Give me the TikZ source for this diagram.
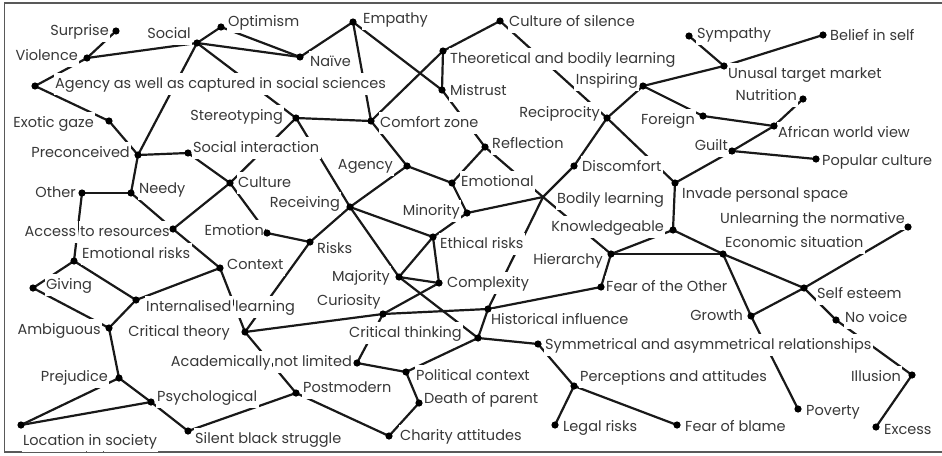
\documentclass[tikz,border=0pt]{standalone}
\usepackage{fontspec}
\setmainfont{Poppins}
\begin{document}
% each word of a label sits on its own white patch, so connectors show between words
\newsavebox\wbx
\newcommand\wword[1]{\sbox\wbx{#1}\rlap{\kern-1.5pt\textcolor{white}{\rule[-0.42em]{\dimexpr\wd\wbx+3pt\relax}{1.45em}}}\usebox\wbx}
\def\wsplit#1 #2\wend{\wword{#1}\ifx\relax#2\relax\else\ \wsplit#2\wend\fi}
\newcommand\lbl[1]{\wsplit#1 \wend}
\tikzset{
  edge/.style={line width=2.2pt, black!90},
  lab/.style={inner sep=0pt, text=black!78, font=\fontsize{14.5}{16}\selectfont},
  frameline/.style={line width=1.3pt, black!65}
}
\begin{tikzpicture}[x=1pt,y=-1pt]
\useasboundingbox (0,0) rectangle (942,455);
\fill[white] (0,0) rectangle (942,455);
\draw[frameline] (942,3) -- (4.5,3) -- (4.5,452) -- (942,452);

% concept points
\coordinate (surprise) at (116,31);
\coordinate (violence) at (87,58);
\coordinate (agencysoc) at (35,86);
\coordinate (social) at (197,43);
\coordinate (optimism) at (221,27);
\coordinate (naive) at (300,57);
\coordinate (empathy) at (353,22);
\coordinate (silence) at (500,21);
\coordinate (theoretical) at (443,51);
\coordinate (mistrust) at (442,90);
\coordinate (comfort) at (371,121);
\coordinate (reflection) at (485,147);
\coordinate (agency) at (407,166);
\coordinate (emotional) at (452,183);
\coordinate (stereo) at (296,118);
\coordinate (exotic) at (109,121);
\coordinate (precon) at (138,155);
\coordinate (socint) at (188,153);
\coordinate (needy) at (131,193);
\coordinate (other) at (82,193);
\coordinate (culture) at (230,183);
\coordinate (receiving) at (350,207);
\coordinate (minority) at (467,213);
\coordinate (bodily) at (543,197);
\coordinate (discomfort) at (574,166);
\coordinate (knowledge) at (673,230);
\coordinate (reciprocity) at (607,118);
\coordinate (inspiring) at (643,86);
\coordinate (sympathy) at (689,36);
\coordinate (belief) at (823,35);
\coordinate (unusual) at (724,66);
\coordinate (nutrition) at (803,99);
\coordinate (foreign) at (703,116);
\coordinate (african) at (774,126);
\coordinate (guilt) at (732,151);
\coordinate (popular) at (816,159);
\coordinate (invade) at (675,183);
\coordinate (unlearning) at (908,227);
\coordinate (economic) at (723,254);
\coordinate (hierarchy) at (611,254);
\coordinate (fearother) at (601,287);
\coordinate (selfesteem) at (804,288);
\coordinate (growth) at (751,316);
\coordinate (novoice) at (836,320);
\coordinate (illusion) at (912,375);
\coordinate (poverty) at (798,409);
\coordinate (fearblame) at (677,425);
\coordinate (excess) at (876,427);
\coordinate (symm) at (538,344);
\coordinate (percep) at (574,386);
\coordinate (legal) at (555,425);
\coordinate (ethical) at (433,237);
\coordinate (complexity) at (439,283);
\coordinate (majority) at (399,277);
\coordinate (curiosity) at (383,314);
\coordinate (historical) at (488,309);
\coordinate (critthink) at (478,338);
\coordinate (academic) at (357,363);
\coordinate (political) at (406,372);
\coordinate (death) at (419,403);
\coordinate (charity) at (389,436);
\coordinate (postmodern) at (296,393);
\coordinate (risks) at (310,242);
\coordinate (emotion) at (267,233);
\coordinate (access) at (173,229);
\coordinate (emorisks) at (74,261);
\coordinate (context) at (220,268);
\coordinate (giving) at (33,288);
\coordinate (internal) at (136,300);
\coordinate (ambiguous) at (109,328);
\coordinate (crittheory) at (245,332);
\coordinate (prejudice) at (119,378);
\coordinate (psych) at (151,402);
\coordinate (location) at (21,425);
\coordinate (silent) at (188,431);

% connectors
\foreach \a/\b in {surprise/violence, violence/agencysoc, violence/social, social/optimism,
  optimism/naive, social/naive, naive/empathy, empathy/comfort, empathy/mistrust,
  mistrust/reflection, reflection/bodily, bodily/hierarchy, theoretical/mistrust,
  theoretical/silence, theoretical/comfort, silence/reciprocity, reciprocity/invade,
  reciprocity/inspiring, reciprocity/discomfort, discomfort/bodily, bodily/historical,
  inspiring/unusual, unusual/belief, sympathy/unusual, inspiring/foreign, foreign/african,
  nutrition/african, african/guilt, guilt/invade, guilt/popular, invade/knowledge,
  knowledge/hierarchy, knowledge/economic, hierarchy/economic, hierarchy/fearother,
  fearother/historical, historical/curiosity, curiosity/crittheory, historical/critthink,
  critthink/symm, critthink/political, critthink/majority, majority/receiving,
  majority/complexity, majority/ethical, ethical/complexity, ethical/minority,
  ethical/receiving, complexity/curiosity, curiosity/academic, academic/political,
  political/death, death/charity, charity/postmodern, postmodern/silent,
  postmodern/crittheory, silent/psych, psych/prejudice, psych/location,
  prejudice/location, prejudice/ambiguous, ambiguous/giving, ambiguous/internal,
  giving/emorisks, emorisks/internal, emorisks/other, other/needy, needy/precon,
  needy/access, access/context, context/internal, context/crittheory, crittheory/risks,
  risks/receiving, risks/emotion, emotion/culture, culture/socint, culture/access,
  culture/stereo, socint/precon, precon/exotic, exotic/agencysoc, precon/social,
  social/stereo, stereo/comfort, stereo/receiving, receiving/agency, agency/comfort,
  agency/emotional, emotional/reflection, emotional/minority, minority/bodily,
  symm/percep, percep/legal, percep/fearblame, economic/selfesteem,
  selfesteem/unlearning, selfesteem/growth, selfesteem/novoice, novoice/illusion,
  illusion/excess, economic/growth, growth/poverty}
  \draw[edge] (\a) -- (\b);

% labels
\node[lab, anchor=east] (t-surprise) at (109,31) {\lbl{Surprise}};
\node[lab, anchor=east] (t-violence) at (78,56) {\lbl{Violence}};
\node[lab, anchor=west] (t-agencysoc) at (55,84) {\wword{Agency as well as captured in social sciences}};
\node[lab, anchor=east] (t-social) at (191,34) {\lbl{Social}};
\node[lab, anchor=west] (t-optimism) at (228,22) {\lbl{Optimism}};
\node[lab, anchor=west] (t-naive) at (310,62) {\lbl{Naïve}};
\node[lab, anchor=west] (t-empathy) at (363,19) {\lbl{Empathy}};
\node[lab, anchor=west] (t-silence) at (509,22) {\lbl{Culture of silence}};
\node[lab, anchor=west] (t-theoretical) at (450,59) {\lbl{Theoretical and bodily learning}};
\node[lab, anchor=west] (t-mistrust) at (450,91) {\lbl{Mistrust}};
\node[lab, anchor=west] (t-comfort) at (380,123) {\lbl{Comfort zone}};
\node[lab, anchor=west] (t-reflection) at (492,144) {\lbl{Reflection}};
\node[lab, anchor=east] (t-agency) at (393,165) {\lbl{Agency}};
\node[lab, anchor=west] (t-emotional) at (461,182) {\lbl{Emotional}};
\node[lab, anchor=east] (t-stereo) at (283,116) {\lbl{Stereotyping}};
\node[lab, anchor=east] (t-exotic) at (94,123) {\lbl{Exotic gaze}};
\node[lab, anchor=east] (t-precon) at (130,153) {\lbl{Preconceived}};
\node[lab, anchor=west] (t-socint) at (193,148) {\lbl{Social interaction}};
\node[lab, anchor=west] (t-needy) at (139,189) {\lbl{Needy}};
\node[lab, anchor=east] (t-other) at (76,193) {\lbl{Other}};
\node[lab, anchor=west] (t-culture) at (238,183) {\lbl{Culture}};
\node[lab, anchor=east] (t-receiving) at (340,203) {\lbl{Receiving}};
\node[lab, anchor=east] (t-minority) at (460,211) {\lbl{Minority}};
\node[lab, anchor=west] (t-bodily) at (557,199) {\lbl{Bodily learning}};
\node[lab, anchor=west] (t-discomfort) at (582,167) {\lbl{Discomfort}};
\node[lab, anchor=east] (t-knowledge) at (664,227) {\lbl{Knowledgeable}};
\node[lab, anchor=east] (t-reciprocity) at (600,113) {\lbl{Reciprocity}};
\node[lab, anchor=east] (t-inspiring) at (638,80) {\lbl{Inspiring}};
\node[lab, anchor=west] (t-sympathy) at (697,34) {\lbl{Sympathy}};
\node[lab, anchor=west] (t-belief) at (830,36) {\lbl{Belief in self}};
\node[lab, anchor=west] (t-unusual) at (728,74) {\lbl{Unusal target market}};
\node[lab, anchor=east] (t-nutrition) at (797,96) {\lbl{Nutrition}};
\node[lab, anchor=east] (t-foreign) at (695,120) {\lbl{Foreign}};
\node[lab, anchor=west] (t-african) at (778,133) {\lbl{African world view}};
\node[lab, anchor=east] (t-guilt) at (728,146) {\lbl{Guilt}};
\node[lab, anchor=west] (t-popular) at (822,161) {\lbl{Popular culture}};
\node[lab, anchor=west] (t-invade) at (682,194) {\lbl{Invade personal space}};
\node[lab, anchor=east] (t-unlearning) at (905,219) {\lbl{Unlearning the normative}};
\node[lab, anchor=west] (t-economic) at (725,243) {\lbl{Economic situation}};
\node[lab, anchor=east] (t-hierarchy) at (603,260) {\lbl{Hierarchy}};
\node[lab, anchor=west] (t-fearother) at (606,287) {\lbl{Fear of the Other}};
\node[lab, anchor=west] (t-selfesteem) at (817,294) {\lbl{Self esteem}};
\node[lab, anchor=east] (t-growth) at (743,316) {\lbl{Growth}};
\node[lab, anchor=west] (t-novoice) at (845,318) {\lbl{No voice}};
\node[lab, anchor=east] (t-illusion) at (901,377) {\lbl{Illusion}};
\node[lab, anchor=west] (t-poverty) at (806,411) {\lbl{Poverty}};
\node[lab, anchor=west] (t-fearblame) at (685,427) {\lbl{Fear of blame}};
\node[lab, anchor=west] (t-excess) at (884,430) {\lbl{Excess}};
\node[lab, anchor=west] (t-symm) at (545,345) {\lbl{Symmetrical and asymmetrical relationships}};
\node[lab, anchor=west] (t-percep) at (580,377) {\lbl{Perceptions and attitudes}};
\node[lab, anchor=west] (t-legal) at (563,427) {\lbl{Legal risks}};
\node[lab, anchor=west] (t-ethical) at (440,244) {\lbl{Ethical risks}};
\node[lab, anchor=west] (t-complexity) at (447,283) {\lbl{Complexity}};
\node[lab, anchor=east] (t-majority) at (390,277) {\lbl{Majority}};
\node[lab, anchor=west] (t-curiosity) at (317,301) {\lbl{Curiosity}};
\node[lab, anchor=west] (t-historical) at (491,320) {\lbl{Historical influence}};
\node[lab, anchor=west] (t-critthink) at (349,333) {\lbl{Critical thinking}};
\node[lab, anchor=east] (t-academic) at (352,362) {\lbl{Academically not limited}};
\node[lab, anchor=west] (t-political) at (416,376) {\lbl{Political context}};
\node[lab, anchor=west] (t-death) at (424,399) {\lbl{Death of parent}};
\node[lab, anchor=west] (t-charity) at (400,436) {\lbl{Charity attitudes}};
\node[lab, anchor=west] (t-postmodern) at (303,388) {\lbl{Postmodern}};
\node[lab, anchor=west] (t-risks) at (317,249) {\lbl{Risks}};
\node[lab, anchor=east] (t-emotion) at (264,231) {\lbl{Emotion}};
\node[lab, anchor=east] (t-access) at (170,232) {\lbl{Access to resources}};
\node[lab, anchor=west] (t-emorisks) at (82,254) {\lbl{Emotional risks}};
\node[lab, anchor=west] (t-context) at (227,265) {\lbl{Context}};
\node[lab, anchor=west] (t-giving) at (46,285) {\lbl{Giving}};
\node[lab, anchor=west] (t-internal) at (146,307) {\lbl{Internalised learning}};
\node[lab, anchor=east] (t-ambiguous) at (101,330) {\lbl{Ambiguous}};
\node[lab, anchor=east] (t-crittheory) at (230,332) {\lbl{Critical theory}};
\node[lab, anchor=east] (t-prejudice) at (108,377) {\lbl{Prejudice}};
\node[lab, anchor=west] (t-psych) at (157,397) {\lbl{Psychological}};
\node[lab, anchor=west] (t-location) at (23,441) {\lbl{Location in society}};
\node[lab, anchor=west] (t-silent) at (195,439) {\lbl{Silent black struggle}};

% dots on top
\foreach \n in {surprise, violence, agencysoc, social, optimism, naive, empathy, silence,
  theoretical, mistrust, comfort, reflection, agency, emotional, stereo, exotic, precon,
  socint, needy, other, culture, receiving, minority, discomfort, knowledge, reciprocity,
  inspiring, sympathy, belief, unusual, nutrition, foreign, african, guilt, popular, invade,
  unlearning, economic, hierarchy, fearother, selfesteem, growth, novoice, illusion,
  poverty, fearblame, excess, symm, percep, legal, ethical, complexity, majority,
  curiosity, historical, critthink, academic, political, death, charity, postmodern,
  risks, emotion, access, emorisks, context, giving, internal, ambiguous, crittheory,
  prejudice, psych, location, silent}
  \fill[black] (\n) circle (3.6pt);
\end{tikzpicture}
\end{document}
